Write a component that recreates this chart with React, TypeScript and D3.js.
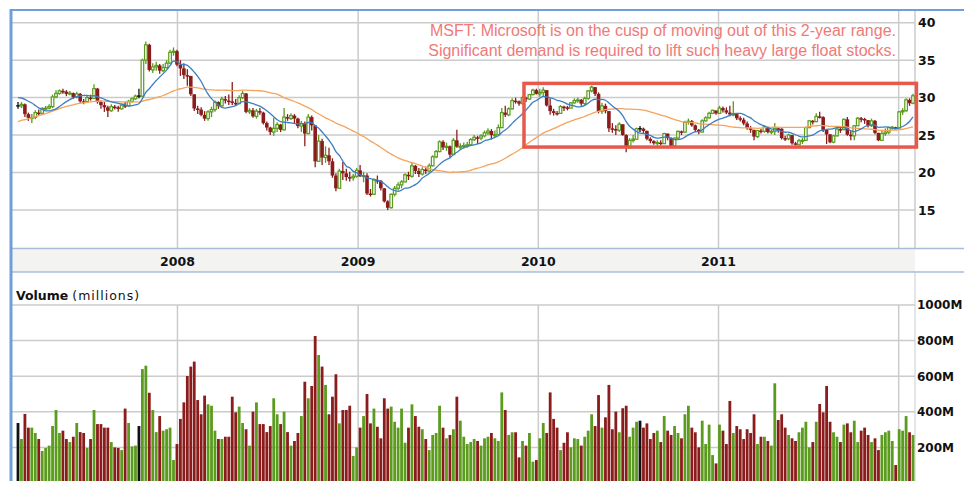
import * as d3 from 'd3';

// one row per week: [close, high, low, volume in millions]
type Week = [number, number, number, number];

// weekly closes before the first visible bar, only used to seed the moving averages
const PRIOR_CLOSES = [
  23.2, 23.0, 23.6, 22.8, 22.1, 22.1, 22.5, 23.3, 22.7, 22.4,
  22.9, 24.1, 24.3, 24.1, 25.8, 25.9, 25.8, 25.7, 26.3, 26.7,
  27.4, 27.8, 28.4, 28.5, 28.3, 28.7, 29.6, 29.4, 29.4, 29.3,
  29.2, 29.6, 29.6, 29.9, 29.7, 31.2, 31.1, 30.5, 30.6, 28.9,
];

const FIRST_WEEK = '2007-02-12';

const WEEKS_2007: Week[] = [
  [28.9, 29.4, 28.5, 337], [29.1, 29.4, 28.6, 247], [27.8, 29.2, 27.4, 388], [27.3, 28.0, 26.9, 311],
  [27.35, 27.8, 26.6, 311], [28.0, 28.3, 27.1, 281], [27.9, 28.4, 27.6, 247], [28.55, 28.7, 27.8, 180],
  [28.6, 28.9, 28.3, 197], [28.8, 29.1, 28.4, 210], [30.1, 30.4, 28.6, 320], [30.55, 31.0, 29.9, 410],
  [30.9, 31.1, 30.4, 281], [30.8, 31.2, 30.5, 294], [30.5, 31.0, 30.2, 247], [30.6, 30.9, 30.3, 230],
  [30.05, 30.7, 29.8, 260], [30.5, 30.8, 29.9, 337], [29.5, 30.6, 29.3, 286], [29.45, 29.8, 29.1, 281],
  [30.0, 30.2, 29.3, 197], [29.9, 30.4, 29.6, 247], [31.2, 31.8, 29.9, 410], [29.4, 31.3, 29.2, 331],
  [29.0, 29.6, 28.5, 331], [28.7, 29.4, 28.1, 311], [28.25, 28.9, 27.4, 311], [28.8, 29.1, 28.1, 230],
  [28.7, 29.0, 28.4, 200], [28.5, 28.9, 28.1, 197], [29.0, 29.2, 28.4, 185], [28.9, 29.4, 28.6, 418],
  [29.5, 29.7, 28.8, 337], [29.85, 30.0, 29.3, 206], [30.2, 30.4, 29.7, 210], [30.2, 31.2, 29.9, 320],
  [35.0, 35.2, 30.1, 640], [37.05, 37.5, 34.5, 659], [33.7, 37.2, 33.5, 507], [34.1, 34.6, 33.3, 410],
  [34.3, 34.8, 33.6, 286], [33.6, 34.5, 33.2, 376], [34.0, 34.5, 33.4, 294], [34.6, 35.0, 33.9, 302],
  [36.05, 36.4, 34.5, 311], [36.2, 36.7, 35.6, 129],
];

const WEEKS_2008: Week[] = [
  [34.4, 36.4, 34.2, 219], [33.9, 35.0, 32.9, 360], [33.0, 34.6, 32.5, 453], [32.9, 33.8, 31.6, 601],
  [30.45, 32.8, 30.2, 654], [28.55, 30.4, 28.2, 682], [28.4, 28.9, 27.8, 466], [27.7, 28.7, 27.5, 386],
  [27.2, 28.2, 26.9, 491], [28.1, 28.3, 26.9, 442], [28.4, 28.8, 27.4, 434], [29.4, 29.6, 28.1, 294],
  [28.9, 29.5, 28.5, 247], [29.8, 30.1, 28.8, 247], [29.6, 30.2, 29.2, 260], [29.5, 30.4, 29.0, 260],
  [29.3, 32.1, 29.0, 485], [29.2, 29.8, 28.9, 397], [30.0, 30.3, 29.1, 429], [30.55, 30.9, 29.8, 337],
  [28.1, 30.6, 27.9, 302], [28.3, 28.6, 27.8, 210], [27.5, 28.6, 27.3, 401], [28.2, 28.5, 27.2, 453],
  [28.0, 28.6, 27.7, 331], [26.6, 28.1, 26.4, 331], [26.0, 26.8, 25.6, 286], [25.4, 26.1, 25.0, 320],
  [25.9, 27.3, 24.9, 476], [26.4, 26.7, 25.4, 386], [25.7, 26.5, 25.4, 331], [27.4, 28.6, 25.6, 401],
  [27.2, 27.8, 26.9, 286], [27.6, 27.9, 27.0, 210], [27.2, 27.8, 26.6, 236], [26.2, 27.3, 25.9, 281],
  [26.5, 26.9, 25.4, 376], [25.2, 26.8, 23.5, 569], [27.4, 27.8, 25.1, 476], [26.3, 27.6, 25.6, 545],
  [21.5, 26.2, 20.7, 826], [24.2, 25.0, 21.4, 719], [22.0, 24.5, 21.0, 654], [22.3, 23.5, 21.3, 551],
  [21.5, 23.3, 21.0, 386], [19.6, 21.9, 19.3, 485], [17.9, 19.9, 17.5, 611], [20.2, 20.5, 17.9, 335],
  [19.9, 21.4, 19.0, 410], [19.4, 20.5, 18.9, 410], [19.3, 20.1, 18.8, 434], [19.5, 19.8, 18.9, 152],
];

const WEEKS_2009: Week[] = [
  [20.3, 20.6, 19.3, 200], [19.5, 21.0, 19.4, 311], [19.6, 20.1, 18.7, 376], [17.2, 19.9, 17.0, 500],
  [17.1, 17.8, 16.8, 335], [19.0, 19.2, 17.0, 418], [18.9, 19.6, 18.5, 316], [17.9, 19.0, 17.6, 251],
  [16.15, 17.9, 16.0, 476], [15.3, 16.3, 15.0, 418], [17.1, 17.2, 15.2, 429], [17.9, 18.2, 16.8, 344],
  [18.35, 18.7, 17.6, 311], [18.75, 19.0, 17.9, 418], [19.7, 19.9, 18.7, 226], [19.5, 20.1, 19.0, 311],
  [20.9, 21.4, 19.3, 442], [20.2, 21.0, 19.8, 376], [19.8, 20.6, 19.4, 316], [20.4, 20.7, 19.6, 302],
  [20.2, 20.8, 19.8, 247], [20.9, 21.2, 20.0, 185], [22.1, 22.3, 20.8, 270], [22.8, 23.0, 21.9, 281],
  [24.1, 24.3, 22.7, 434], [23.35, 24.3, 23.0, 311], [23.5, 24.0, 22.9, 251], [22.4, 23.6, 22.0, 270],
  [24.3, 24.6, 22.3, 302], [23.45, 25.7, 23.3, 485], [23.5, 23.9, 23.0, 350], [23.6, 24.0, 23.2, 260],
  [23.7, 24.1, 23.3, 219], [24.4, 24.6, 23.5, 230], [24.7, 25.0, 24.2, 247], [24.6, 24.9, 23.8, 236],
  [24.9, 25.1, 24.3, 210], [25.3, 25.6, 24.7, 251], [25.55, 25.9, 25.0, 260], [25.0, 25.8, 24.4, 281],
  [25.05, 25.6, 24.7, 251], [26.0, 26.4, 25.0, 236], [28.0, 28.6, 25.9, 509], [27.7, 28.9, 27.4, 410],
  [28.5, 28.7, 27.5, 270], [29.6, 29.9, 28.4, 285], [29.5, 30.0, 29.2, 285], [29.2, 29.6, 28.9, 144],
  [30.0, 30.2, 29.1, 236], [29.8, 30.1, 29.4, 210], [30.4, 30.5, 29.7, 281], [31.0, 31.2, 30.3, 120],
  [30.5, 31.2, 30.4, 129],
];

const WEEKS_2010: Week[] = [
  [30.7, 31.2, 30.1, 251], [31.0, 31.4, 30.2, 337], [28.95, 31.0, 28.8, 281], [28.2, 29.9, 27.7, 509],
  [27.95, 28.5, 27.6, 360], [27.9, 28.2, 27.6, 311], [28.8, 29.0, 27.9, 185], [28.7, 28.9, 28.2, 226],
  [28.6, 28.9, 28.3, 285], [29.3, 29.4, 28.6, 200], [29.6, 29.9, 29.2, 251], [29.7, 30.0, 29.3, 247],
  [29.2, 29.8, 28.9, 210], [29.9, 30.1, 28.9, 260], [30.9, 31.0, 29.7, 294], [31.4, 31.6, 30.7, 386],
  [30.5, 31.4, 30.2, 320], [28.2, 30.7, 27.9, 494], [28.9, 29.3, 27.8, 311], [28.2, 29.2, 27.9, 369],
  [25.9, 28.2, 25.4, 551], [25.8, 26.6, 25.3, 302], [25.65, 26.3, 25.0, 401], [26.45, 26.7, 25.4, 285],
  [25.0, 26.4, 24.9, 420], [23.3, 25.1, 22.7, 434], [24.3, 24.6, 23.2, 260], [24.45, 25.0, 24.0, 311],
  [25.85, 26.0, 24.4, 344], [25.85, 26.2, 25.4, 350], [25.55, 26.0, 25.2, 311], [24.5, 25.6, 24.3, 335],
  [24.2, 24.7, 23.9, 247], [23.9, 24.3, 23.7, 281], [24.0, 24.3, 23.3, 294], [23.85, 24.3, 23.6, 230],
  [25.2, 25.3, 23.9, 376], [24.6, 25.2, 24.3, 294], [23.55, 24.7, 23.3, 270], [24.6, 24.7, 23.5, 320],
  [25.5, 25.6, 24.4, 281], [25.4, 25.6, 25.0, 251], [26.7, 26.9, 25.3, 386], [26.85, 27.2, 26.4, 434],
  [26.3, 27.0, 26.1, 311], [25.7, 26.4, 25.4, 285], [25.4, 25.8, 25.1, 200], [26.9, 27.1, 25.4, 350],
  [27.3, 27.5, 26.8, 219], [27.9, 28.1, 27.2, 328], [28.3, 28.4, 27.8, 157], [27.9, 28.2, 27.7, 110],
];

const WEEKS_2011: Week[] = [
  [28.6, 28.9, 27.9, 328], [28.3, 28.8, 28.0, 294], [28.0, 28.7, 27.8, 219], [27.75, 28.9, 27.5, 461],
  [27.8, 29.5, 27.5, 281], [27.25, 27.9, 27.0, 320], [27.05, 27.5, 26.8, 302], [26.55, 27.3, 26.3, 247],
  [25.95, 26.8, 25.7, 302], [25.7, 26.2, 25.3, 281], [24.8, 25.7, 24.3, 386], [25.6, 25.7, 24.6, 219],
  [25.5, 25.8, 25.2, 260], [26.1, 26.2, 25.3, 260], [25.4, 26.1, 25.2, 236], [25.5, 25.7, 25.1, 210],
  [25.9, 26.6, 25.0, 560], [25.85, 26.0, 25.3, 354], [24.6, 25.9, 24.4, 386], [24.5, 24.9, 24.2, 311],
  [25.0, 25.2, 24.3, 270], [23.9, 25.0, 23.7, 251], [23.7, 24.1, 23.6, 236], [24.25, 24.5, 23.6, 285],
  [24.3, 24.6, 23.8, 311], [26.0, 26.1, 24.2, 344], [26.9, 27.0, 25.9, 200], [26.8, 27.0, 26.4, 230],
  [27.5, 27.9, 26.7, 344], [27.4, 28.1, 27.2, 444], [25.7, 27.5, 25.4, 397], [25.1, 25.8, 23.8, 545],
  [24.05, 25.1, 23.9, 344], [24.9, 25.0, 23.9, 285], [25.8, 26.0, 24.8, 260], [25.75, 26.1, 25.3, 230],
  [27.1, 27.2, 25.6, 328], [25.05, 27.4, 24.9, 335], [24.9, 25.6, 24.3, 285], [26.25, 26.3, 24.3, 350],
  [27.25, 27.4, 26.2, 230], [27.15, 27.4, 26.7, 294], [27.0, 27.3, 26.5, 311], [26.25, 27.0, 26.0, 270],
  [26.9, 27.2, 26.1, 230], [25.3, 27.0, 25.1, 251], [24.3, 25.3, 24.2, 185], [25.2, 25.6, 24.6, 270],
  [25.4, 25.9, 24.9, 285], [26.0, 26.1, 25.1, 294], [26.05, 26.2, 25.7, 236], [25.95, 26.1, 25.8, 101],
];

const WEEKS_2012: Week[] = [
  [28.1, 28.2, 26.0, 302], [28.25, 28.6, 27.7, 294], [29.7, 29.9, 28.1, 376], [29.25, 29.9, 28.9, 285],
  [30.25, 30.5, 29.1, 270],
];

const PRICE_TICKS = [15, 20, 25, 30, 35, 40];
const VOLUME_TICKS = [200, 400, 600, 800, 1000];
const YEAR_LINES = [2008, 2009, 2010, 2011, 2012];
const YEAR_LABELS = [2008, 2009, 2010, 2011];
const NOTE_LINES = [
  'MSFT: Microsoft is on the cusp of moving out of this 2-year range.',
  'Significant demand is required to lift such heavy large float stocks.',
];
// the highlighted trading range
const RANGE_FROM = '2009-12-03';
const RANGE_TO = '2012-02-06';
const RANGE_TOP = 31.9;
const RANGE_BOTTOM = 23.4;

const GREEN = '#5b9b1e';
const RED = '#8b1c1c';
const GRID = '#cbcbcb';
const FRAME = '#6f9fd6';
const BAND_LINE = '#a9bdd9';
const AXIS_FONT = '"DejaVu Sans", Verdana, sans-serif';

export default function App() {
  const width = 964;
  const height = 481;
  const plotLeft = 12;
  const plotRight = 915;
  const priceTop = 10;
  const priceBottom = 248;
  const bandBottom = 272;
  const volTop = 305;

  const parse = d3.timeParse('%Y-%m-%d');
  const first = parse(FIRST_WEEK)!;
  const weeks = [...WEEKS_2007, ...WEEKS_2008, ...WEEKS_2009, ...WEEKS_2010, ...WEEKS_2011, ...WEEKS_2012];

  // weekly open taken as the prior week's close
  const bars = weeks.map((w, i) => {
    const open = i === 0 ? PRIOR_CLOSES[PRIOR_CLOSES.length - 1] : weeks[i - 1][0];
    return {
      date: d3.timeMonday.offset(first, i),
      open,
      close: w[0],
      high: w[1],
      low: w[2],
      volume: w[3],
    };
  });

  const allCloses = [...PRIOR_CLOSES, ...weeks.map(w => w[0])];
  const sma = (n: number) =>
    bars.map((b, i) => {
      const end = i + PRIOR_CLOSES.length + 1;
      return { date: b.date, value: d3.mean(allCloses.slice(end - n, end)) as number };
    });
  const ma10 = sma(10);
  const ma40 = sma(40);

  const x = d3.scaleTime()
    .domain([bars[0].date, bars[bars.length - 1].date])
    .range([18, 913]);
  const y = d3.scaleLinear().domain([15, 40]).range([210, 22.7]);
  const yv = d3.scaleLinear().domain([0, 1000]).range([483, volTop]);

  const maLine = d3.line<{ date: Date; value: number }>()
    .x(d => x(d.date))
    .y(d => y(d.value))
    .curve(d3.curveMonotoneX);

  const colorOf = (b: { open: number; close: number }) =>
    b.close > b.open ? GREEN : b.close < b.open ? RED : '#111';

  const boxX0 = x(parse(RANGE_FROM)!);
  const boxX1 = x(parse(RANGE_TO)!);

  return (
    <svg
      width={width}
      height={height}
      style={{ position: 'absolute', left: 0, top: 0, background: '#fff' }}
    >
      <defs>
        <clipPath id="price-clip">
          <rect x={plotLeft} y={priceTop} width={plotRight - plotLeft} height={priceBottom - priceTop} />
        </clipPath>
        <clipPath id="vol-clip">
          <rect x={plotLeft} y={bandBottom} width={plotRight - plotLeft} height={height - bandBottom} />
        </clipPath>
      </defs>

      {/* price grid */}
      {PRICE_TICKS.map(t => (
        <line key={t} x1={plotLeft} x2={plotRight} y1={y(t)} y2={y(t)} stroke={GRID} strokeWidth={1.5} />
      ))}
      {YEAR_LINES.map(yr => {
        const gx = x(new Date(yr, 0, 1));
        return (
          <g key={yr}>
            <line x1={gx} x2={gx} y1={priceTop} y2={priceBottom} stroke={GRID} strokeWidth={1.5} />
            <line x1={gx} x2={gx} y1={volTop} y2={height} stroke={GRID} strokeWidth={1.5} />
          </g>
        );
      })}
      <line x1={plotRight} x2={plotRight} y1={priceTop} y2={priceBottom} stroke={GRID} strokeWidth={1.5} />
      <line x1={plotRight} x2={plotRight} y1={bandBottom} y2={height} stroke="#dcdcdc" strokeWidth={1.5} />

      {/* volume grid */}
      {VOLUME_TICKS.map(t => (
        <line key={t} x1={plotLeft} x2={plotRight} y1={yv(t)} y2={yv(t)} stroke={GRID} strokeWidth={1.5} />
      ))}

      {/* annotation */}
      {NOTE_LINES.map((t, i) => (
        <text
          key={i}
          x={896}
          y={35.5 + i * 20}
          textAnchor="end"
          fontFamily='"Liberation Sans", Arial, sans-serif'
          fontSize={16}
          fill="#f07a78"
        >
          {t}
        </text>
      ))}

      {/* candles */}
      <g clipPath="url(#price-clip)">
        {bars.map((b, i) => {
          const cx = x(b.date);
          const c = colorOf(b);
          const top = y(Math.max(b.open, b.close));
          const bot = y(Math.min(b.open, b.close));
          return (
            <g key={i}>
              <line x1={cx} x2={cx} y1={y(b.high)} y2={y(b.low)} stroke={c} strokeWidth={1.3} />
              {b.close > b.open ? (
                <rect x={cx - 1.3} y={top} width={2.6} height={Math.max(bot - top, 1)} fill="#fff" stroke={c} strokeWidth={1.2} />
              ) : b.close < b.open ? (
                <rect x={cx - 1.8} y={top} width={3.6} height={Math.max(bot - top, 1.5)} fill={c} />
              ) : (
                <line x1={cx - 1.8} x2={cx + 1.8} y1={top} y2={top} stroke={c} strokeWidth={1.5} />
              )}
            </g>
          );
        })}
        <path d={maLine(ma40) ?? ''} fill="none" stroke="#f6a35c" strokeWidth={1.3} />
        <path d={maLine(ma10) ?? ''} fill="none" stroke="#3b7fc2" strokeWidth={1.3} />
      </g>

      {/* range box */}
      <rect
        x={boxX0}
        y={y(RANGE_TOP)}
        width={boxX1 - boxX0}
        height={y(RANGE_BOTTOM) - y(RANGE_TOP)}
        fill="none"
        stroke="#e8584b"
        strokeWidth={3.5}
      />

      {/* price axis */}
      {PRICE_TICKS.map(t => (
        <text key={t} x={918} y={y(t)} dy="0.36em" fontFamily={AXIS_FONT} fontWeight="bold" fontSize={12.5} fill="#111">
          {t}
        </text>
      ))}

      {/* date band */}
      <rect x={plotLeft} y={priceBottom} width={plotRight - plotLeft} height={bandBottom - priceBottom} fill="#f3f4f2" />
      <line x1={plotLeft} x2={width} y1={priceBottom + 0.5} y2={priceBottom + 0.5} stroke={BAND_LINE} strokeWidth={1.5} />
      <line x1={plotLeft} x2={width} y1={bandBottom} y2={bandBottom} stroke={BAND_LINE} strokeWidth={1.5} />
      {YEAR_LABELS.map(yr => (
        <text
          key={yr}
          x={x(new Date(yr, 0, 1))}
          y={265.5}
          textAnchor="middle"
          fontFamily={AXIS_FONT}
          fontWeight="bold"
          fontSize={12.5}
          fill="#111"
        >
          {yr}
        </text>
      ))}

      {/* volume */}
      <text x={16} y={300} fontFamily={AXIS_FONT} fontSize={12.5} fill="#111">
        <tspan fontWeight="bold">Volume</tspan>
        <tspan letterSpacing={1} dx={4}>(millions)</tspan>
      </text>
      <g clipPath="url(#vol-clip)">
        {bars.map((b, i) => (
          <rect
            key={i}
            x={x(b.date) - 1.4}
            y={yv(b.volume)}
            width={2.8}
            height={yv(0) - yv(b.volume)}
            fill={colorOf(b)}
          />
        ))}
      </g>
      {VOLUME_TICKS.map(t => (
        <text key={t} x={917} y={yv(t)} dy="0.36em" fontFamily={AXIS_FONT} fontWeight="bold" fontSize={12} fill="#111">
          {t}M
        </text>
      ))}

      {/* frame */}
      <line x1={10} x2={width} y1={10} y2={10} stroke={FRAME} strokeWidth={2} />
      <line x1={11} x2={11} y1={9} y2={height} stroke={FRAME} strokeWidth={3} />
    </svg>
  );
}
